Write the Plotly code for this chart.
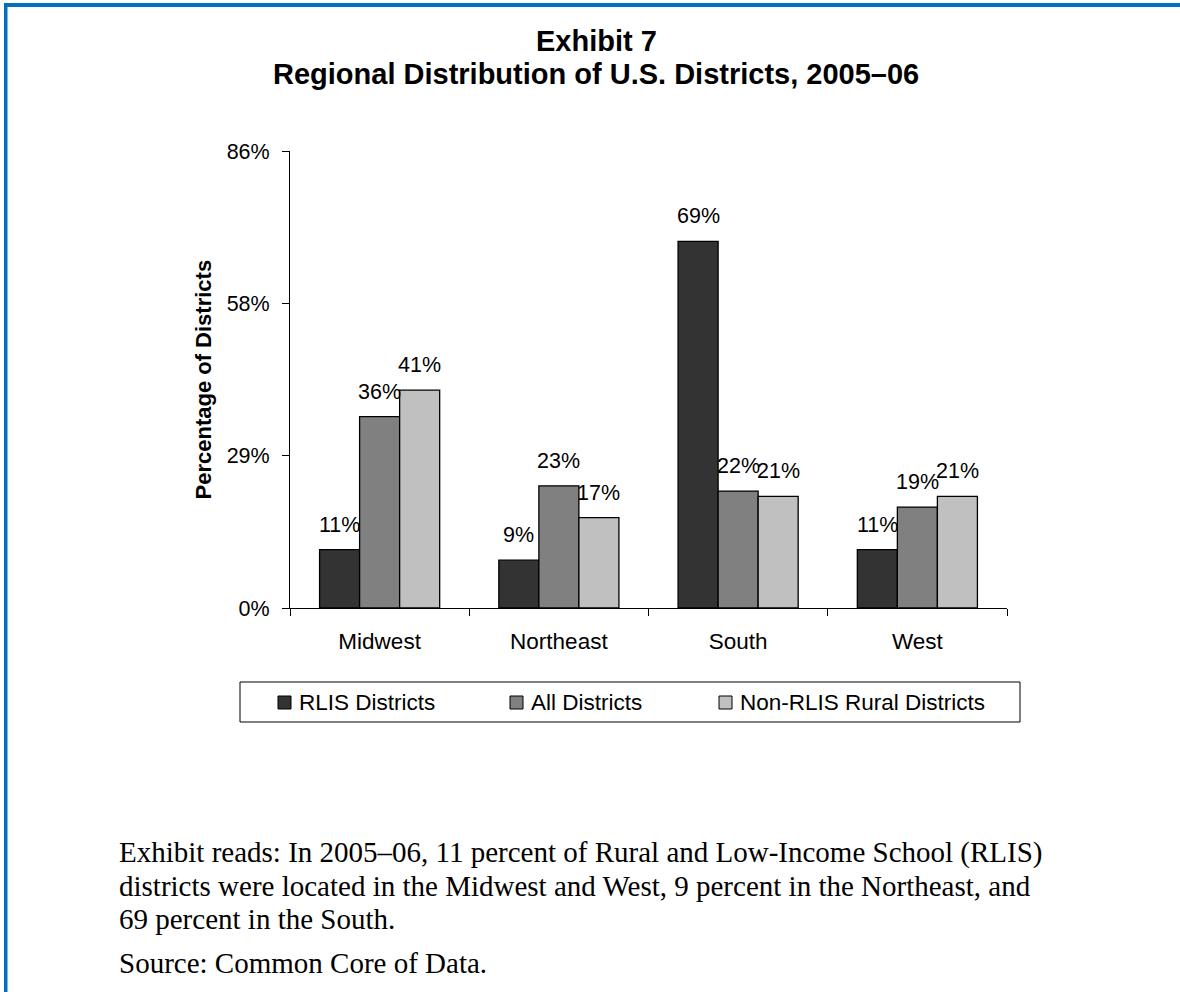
import plotly.graph_objects as go

# Regional share of districts by district type (percent)
regions = ["Midwest", "Northeast", "South", "West"]
series_names = ["RLIS Districts", "All Districts", "Non-RLIS Rural Districts"]
rlis_districts = [11, 9, 69, 11]
all_districts = [36, 23, 22, 19]
non_rlis_rural = [41, 17, 21, 21]
y_tick_values = [0, 86 / 3, 172 / 3, 86]
y_tick_labels = ["0%", "29%", "58%", "86%"]

series_values = [rlis_districts, all_districts, non_rlis_rural]
bar_colors = ["#333333", "#808080", "#C0C0C0"]

W, H = 1180, 992
PL, PR, PT, PB = 290, 1007, 151, 608  # plot area in pixels
BARGAP = 0.33


def px(x):
    return (x - PL) / (PR - PL)


def py(y):
    return (PB - y) / (PB - PT)


ARIAL = "Arial, Liberation Sans, sans-serif"
TIMES = "Times New Roman, Liberation Serif, serif"

fig = go.Figure()
for name, vals, color in zip(series_names, series_values, bar_colors):
    fig.add_trace(go.Bar(
        x=regions, y=vals, name=name,
        marker=dict(color=color, line=dict(color="#000000", width=1.3)),
        showlegend=False,
    ))

annotations = []
# value labels above each bar
bar_w = (1 - BARGAP) / len(series_values)
for j, vals in enumerate(series_values):
    offset = (j - (len(series_values) - 1) / 2) * bar_w
    for i, v in enumerate(vals):
        annotations.append(dict(
            x=i + offset, y=v, xref="x", yref="y",
            text=f"{v}%", showarrow=False, xanchor="center", yanchor="bottom",
            yshift=11,
            font=dict(family=ARIAL, size=21.5, color="#000000"),
        ))


def paper_text(x, y, text, font, **kw):
    d = dict(x=px(x), y=py(y), xref="paper", yref="paper", text=text,
             showarrow=False, xanchor="center", yanchor="middle", font=font)
    d.update(kw)
    return d


# titles
title_font = dict(family=ARIAL, size=29, color="#000000")
annotations.append(paper_text(596, 41, "<b>Exhibit 7</b>", title_font))
annotations.append(paper_text(596, 74,
                              "<b>Regional Distribution of U.S. Districts, 2005–06</b>",
                              title_font))
annotations.append(paper_text(203, (PT + PB) / 2, "<b>Percentage of Districts</b>",
                              dict(family=ARIAL, size=22, color="#000000"),
                              textangle=-90))

# legend
shapes = []
shapes.append(dict(type="rect", xref="paper", yref="paper",
                   x0=px(240), x1=px(1020), y0=py(722), y1=py(682),
                   line=dict(color="#000000", width=1), fillcolor="#FFFFFF"))
swatch_left = [278, 510, 719]
for name, color, sx in zip(series_names, bar_colors, swatch_left):
    shapes.append(dict(type="rect", xref="paper", yref="paper",
                       x0=px(sx), x1=px(sx + 13), y0=py(709), y1=py(696),
                       line=dict(color="#000000", width=1), fillcolor=color))
    annotations.append(paper_text(sx + 19, 702, name,
                                  dict(family=ARIAL, size=22.5, color="#000000"),
                                  xanchor="left"))

# notes below the chart
note_lines = [
    "Exhibit reads: In 2005–06, 11 percent of Rural and Low-Income School (RLIS)",
    "districts were located in the Midwest and West, 9 percent in the Northeast, and",
    "69 percent in the South.",
    "Source: Common Core of Data.",
]
note_y = [852, 886, 919, 963]
for line, ly in zip(note_lines, note_y):
    annotations.append(paper_text(117, ly, line,
                                  dict(family=TIMES, size=29, color="#000000"),
                                  xanchor="left"))

# blue frame on top and left edges
shapes.append(dict(type="rect", xref="paper", yref="paper",
                   x0=px(4), x1=px(W), y0=py(7), y1=py(3),
                   line=dict(width=0), fillcolor="#0070C0"))
shapes.append(dict(type="rect", xref="paper", yref="paper",
                   x0=px(4), x1=px(7.5), y0=py(H), y1=py(3),
                   line=dict(width=0), fillcolor="#0070C0"))

fig.update_layout(
    width=W, height=H,
    margin=dict(l=PL, r=W - PR, t=PT, b=H - PB, pad=0),
    paper_bgcolor="#FFFFFF", plot_bgcolor="#FFFFFF",
    barmode="group", bargap=BARGAP, bargroupgap=0,
    showlegend=False,
    annotations=annotations, shapes=shapes,
    font=dict(family=ARIAL, color="#000000"),
)
fig.update_xaxes(
    type="category", showline=True, linecolor="#000000", linewidth=1,
    ticks="outside", tickson="boundaries", ticklen=7, tickcolor="#000000",
    tickfont=dict(family=ARIAL, size=22.5, color="#000000"),
    ticklabelstandoff=13, showgrid=False, zeroline=False,
)
fig.update_yaxes(
    range=[0, 86], tickvals=y_tick_values, ticktext=y_tick_labels,
    showline=True, linecolor="#000000", linewidth=1,
    ticks="outside", ticklen=7, tickcolor="#000000",
    tickfont=dict(family=ARIAL, size=21.5, color="#000000"),
    ticklabelstandoff=8, showgrid=False, zeroline=False,
)

fig.write_html("out.html")
